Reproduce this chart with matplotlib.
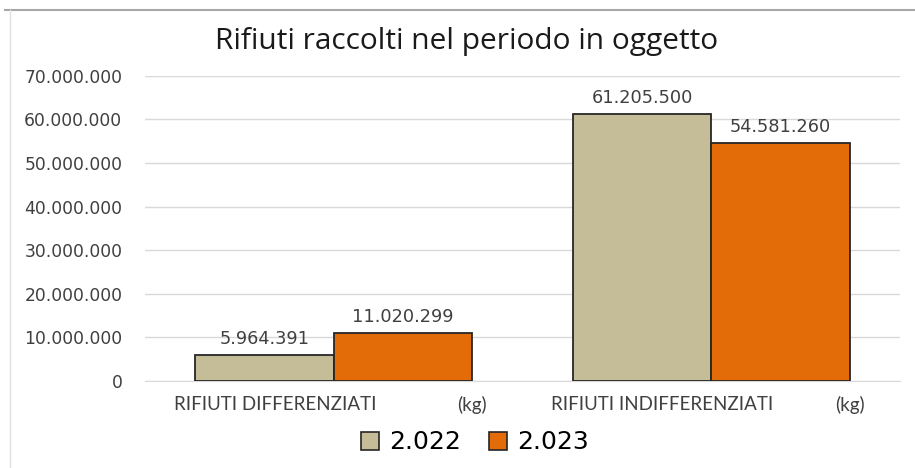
"""Rifiuti raccolti nel periodo in oggetto - grouped bar chart."""

import numpy as np
import matplotlib.pyplot as plt
from matplotlib.lines import Line2D

categories = ["RIFIUTI DIFFERENZIATI", "RIFIUTI INDIFFERENZIATI"]
unit = "(kg)"
years = ["2.022", "2.023"]
values_2022 = [5964391, 61205500]
values_2023 = [11020299, 54581260]
yticks = [0, 10_000_000, 20_000_000, 30_000_000, 40_000_000,
          50_000_000, 60_000_000, 70_000_000]

colors = ["#C4BD97", "#E36C09"]


def fmt_it(v):
    return f"{int(v):,}".replace(",", ".")


fig = plt.figure(figsize=(9.15, 4.68), dpi=100)
ax = fig.add_axes([0.158, 0.186, 0.826, 0.652])

x = np.arange(len(categories))
width = 0.366
series = [values_2022, values_2023]
for i, vals in enumerate(series):
    pos = x + (i - 0.5) * width
    bars = ax.bar(pos, vals, width, color=colors[i], edgecolor="#262626",
                  linewidth=1.3, zorder=3, align="center")
    for b, v in zip(bars, vals):
        ax.annotate(fmt_it(v), (b.get_x() + b.get_width() / 2, v),
                    xytext=(0, 5), textcoords="offset points",
                    ha="center", va="bottom", fontsize=12.8, color="#404040")

ax.set_xlim(-0.5, 1.5)
ax.set_ylim(0, 70_000_000)
ax.set_yticks(yticks)
ax.set_yticklabels([fmt_it(t) for t in yticks], fontsize=12.3, color="#404040")
ax.set_xticks(x)
ax.set_xticklabels([""] * len(categories))
ax.tick_params(axis="both", length=0)
ax.tick_params(axis="y", pad=16)
ax.grid(axis="y", color="#D9D9D9", linewidth=1, zorder=0)
for s in ["top", "right", "left"]:
    ax.spines[s].set_visible(False)
ax.spines["bottom"].set_color("#D9D9D9")

# category label + unit, as in the original "name      (kg)" axis labels
for xi, name in zip(x, categories):
    ax.annotate(name, (xi, 0), xycoords=("data", "axes fraction"),
                xytext=(-160, -15), textcoords="offset pixels",
                ha="left", va="top", fontsize=13.5, family="Lato", color="#404040")
    ax.annotate(unit, (xi, 0), xycoords=("data", "axes fraction"),
                xytext=(153, -15), textcoords="offset pixels",
                ha="right", va="top", fontsize=13.5, family="Lato", color="#404040")

fig.text(0.51, 0.912, "Rifiuti raccolti nel periodo in oggetto",
         ha="center", va="center", fontsize=21.5, family="Open Sans", color="#1a1a1a")

handles = [Line2D([], [], marker="s", linestyle="none", markersize=13.5,
                  markerfacecolor=c, markeredgecolor="#262626", markeredgewidth=1.2)
           for c in colors]
fig.legend(handles, years, loc="center", bbox_to_anchor=(0.517, 0.055), ncol=2,
           frameon=False, prop={"size": 18},
           handletextpad=0.25, columnspacing=1.0, handlelength=1.0)

# frame lines of the original screenshot
fig.add_artist(Line2D([0.005, 1.0], [0.978, 0.978], color="#A6A6A6", linewidth=1.5))
fig.add_artist(Line2D([0.011, 0.011], [0.0, 0.978], color="#E0E0E0", linewidth=1))

fig.savefig("out.png", dpi=100)
